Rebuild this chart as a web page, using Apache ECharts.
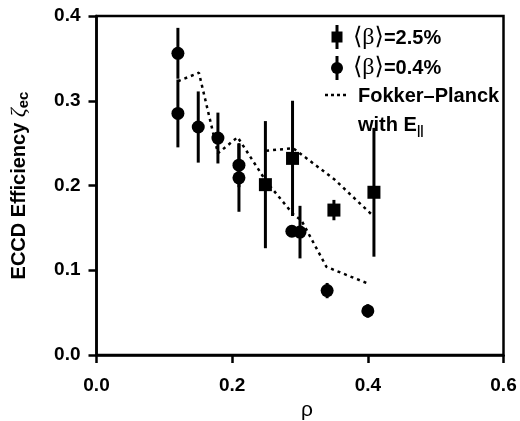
<!DOCTYPE html>
<html>
<head>
<meta charset="utf-8">
<script src="https://cdn.jsdelivr.net/npm/echarts@6/dist/echarts.min.js"></script>
<style>html,body{margin:0;padding:0;background:#fff}#c{width:520px;height:421px}</style>
</head>
<body>
<div id="c"></div>
<script>
// <β> = 0.4% measurements
const circleRho = [0.120, 0.120, 0.150, 0.179, 0.210, 0.210, 0.288, 0.300, 0.340, 0.400];
const circleVal = [0.356, 0.285, 0.269, 0.256, 0.224, 0.209, 0.146, 0.145, 0.076, 0.052];
const circleErr = [0.030, 0.040, 0.042, 0.030, 0.026, 0.040, 0.005, 0.031, 0.009, 0.008];
// <β> = 2.5% measurements
const squareRho = [0.249, 0.289, 0.350, 0.409];
const squareVal = [0.201, 0.232, 0.171, 0.192];
const squareErr = [0.075, 0.068, 0.012, 0.076];
// Fokker-Planck with E_par
const fpLowRho = [0.120, 0.151, 0.179, 0.208, 0.250, 0.290, 0.302, 0.339, 0.398];
const fpLowVal = [0.323, 0.333, 0.238, 0.257, 0.205, 0.166, 0.159, 0.104, 0.085];
const fpHighRho = [0.250, 0.290, 0.351, 0.408];
const fpHighVal = [0.241, 0.244, 0.207, 0.164];
// axes
const xMin = 0, xMax = 0.6, xStep = 0.2;
const yMin = 0, yMax = 0.4, yStep = 0.1;

const zip = (a, b, c) => a.map((v, i) => c ? [v, b[i], c[i]] : [v, b[i]]);
const SANS = "'Liberation Sans', Arial, Helvetica, sans-serif";
const SERIF = "'Liberation Serif', 'DejaVu Serif', serif";

function errRender(params, api) {
  const x = api.value(0), y = api.value(1), e = api.value(2);
  const t = api.coord([x, y + e]), b = api.coord([x, y - e]);
  return { type: 'line', shape: { x1: t[0], y1: t[1], x2: b[0], y2: b[1] },
           style: { stroke: '#000', lineWidth: 3 } };
}

const chart = echarts.init(document.getElementById('c'), null, { renderer: 'canvas' });
const lab = { color: '#000', fontFamily: SANS, fontWeight: 'bold', fontSize: 19 };
chart.setOption({
  animation: false,
  backgroundColor: '#fff',
  grid: { left: 96.5, right: 16.5, top: 16, bottom: 66, show: true, borderColor: '#000', borderWidth: 2.5,
          containLabel: false, outerBoundsMode: 'none' },
  xAxis: {
    type: 'value', min: xMin, max: xMax, interval: xStep,
    axisLine: { show: true, lineStyle: { color: '#000', width: 2.5 } },
    axisTick: { show: true, inside: false, length: 8, lineStyle: { color: '#000', width: 2.5 } },
    splitLine: { show: false },
    axisLabel: Object.assign({ margin: 21, formatter: v => v.toFixed(1) }, lab),
    name: 'ρ', nameLocation: 'middle', nameGap: 41,
    nameTextStyle: { color: '#000', fontFamily: SANS, fontSize: 21, padding: [0, 0, 0, 14] }
  },
  yAxis: {
    type: 'value', min: yMin, max: yMax, interval: yStep,
    axisLine: { show: true, lineStyle: { color: '#000', width: 2.5 } },
    axisTick: { show: true, inside: false, length: 8, lineStyle: { color: '#000', width: 2.5 } },
    splitLine: { show: false },
    axisLabel: Object.assign({ margin: 16, formatter: v => v.toFixed(1) }, lab),
    name: '{a|ECCD Efficiency }{z|ζ}{s|ec}', nameLocation: 'middle', nameGap: 65,
    nameTextStyle: {
      rich: {
        a: { fontFamily: SANS, fontWeight: 'bold', fontSize: 20, color: '#000', lineHeight: 24, verticalAlign: 'middle' },
        z: { fontFamily: SERIF, fontStyle: 'italic', fontSize: 22, color: '#000', lineHeight: 24, verticalAlign: 'middle' },
        s: { fontFamily: SANS, fontWeight: 'bold', fontSize: 15, color: '#000', lineHeight: 14, verticalAlign: 'bottom' }
      }
    }
  },
  series: [
    { type: 'line', name: 'fpLow', data: zip(fpLowRho, fpLowVal), symbol: 'none',
      lineStyle: { color: '#000', width: 2.5, type: [3, 4] }, z: 2 },
    { type: 'line', name: 'fpHigh', data: zip(fpHighRho, fpHighVal), symbol: 'none',
      lineStyle: { color: '#000', width: 2.5, type: [3, 4] }, z: 2 },
    { type: 'custom', name: 'circleErr', renderItem: errRender, data: zip(circleRho, circleVal, circleErr), z: 3 },
    { type: 'custom', name: 'squareErr', renderItem: errRender, data: zip(squareRho, squareVal, squareErr), z: 3 },
    { type: 'scatter', name: '⟨β⟩=0.4%', data: zip(circleRho, circleVal), symbol: 'circle', symbolSize: 13,
      itemStyle: { color: '#000', opacity: 1 }, z: 4 },
    { type: 'scatter', name: '⟨β⟩=2.5%', data: zip(squareRho, squareVal), symbol: 'rect', symbolSize: 13,
      itemStyle: { color: '#000', opacity: 1 }, z: 4 }
  ],
  graphic: [
    { type: 'line', shape: { x1: 337, y1: 25, x2: 337, y2: 49 }, style: { stroke: '#000', lineWidth: 3 } },
    { type: 'rect', shape: { x: 331.5, y: 31.5, width: 11, height: 11 }, style: { fill: '#000' } },
    { type: 'line', shape: { x1: 337, y1: 56, x2: 337, y2: 80 }, style: { stroke: '#000', lineWidth: 3 } },
    { type: 'circle', shape: { cx: 337, cy: 68, r: 6 }, style: { fill: '#000' } },
    { type: 'line', shape: { x1: 325, y1: 95, x2: 346, y2: 95 }, style: { stroke: '#000', lineWidth: 2.5, lineDash: [3, 3] } },
    { type: 'text', x: 353, y: 38, style: { text: '{g|⟨β⟩}{b|=2.5%}', verticalAlign: 'middle',
      rich: { g: { fontFamily: SERIF, fontSize: 24, fill: '#000' }, b: { fontFamily: SANS, fontWeight: 'bold', fontSize: 20, fill: '#000' } } } },
    { type: 'text', x: 353, y: 68, style: { text: '{g|⟨β⟩}{b|=0.4%}', verticalAlign: 'middle',
      rich: { g: { fontFamily: SERIF, fontSize: 24, fill: '#000' }, b: { fontFamily: SANS, fontWeight: 'bold', fontSize: 20, fill: '#000' } } } },
    { type: 'text', x: 358, y: 96, style: { text: 'Fokker–Planck', verticalAlign: 'middle',
      font: "bold 20px " + SANS, fill: '#000' } },
    { type: 'text', x: 358, y: 125, style: { text: '{b|with E}{s|||}', verticalAlign: 'middle',
      rich: { b: { fontFamily: SANS, fontWeight: 'bold', fontSize: 20, fill: '#000', lineHeight: 24, verticalAlign: 'middle' },
              s: { fontFamily: SANS, fontWeight: 'bold', fontSize: 12, fill: '#000', lineHeight: 12, verticalAlign: 'bottom' } } } }
  ]
});
</script>
</body>
</html>
